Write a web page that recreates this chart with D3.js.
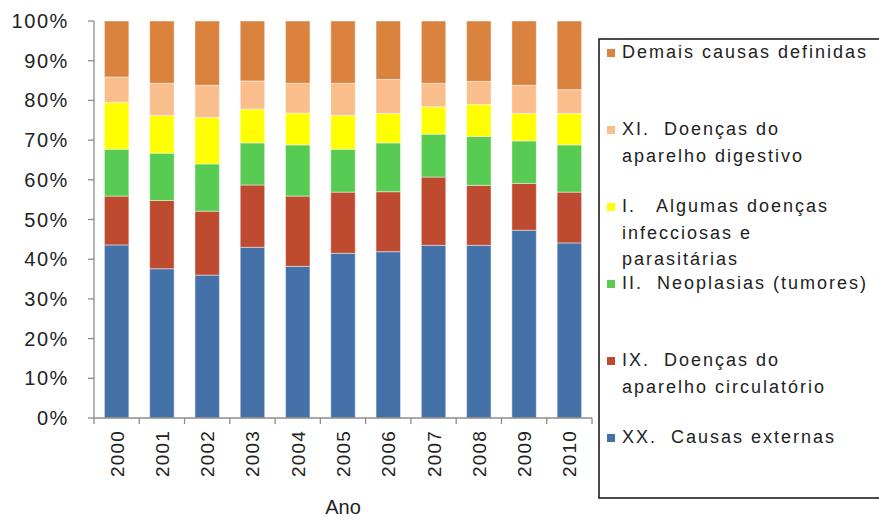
<!DOCTYPE html>
<html>
<head>
<meta charset="utf-8">
<script src="https://cdn.jsdelivr.net/npm/d3@7"></script>
<style>
  body { margin: 0; background: #fff; }
  text { font-family: "Liberation Sans", Arial, sans-serif; fill: #222; }
</style>
</head>
<body>
<div id="chart"></div>
<script>
const years = ["2000", "2001", "2002", "2003", "2004", "2005", "2006", "2007", "2008", "2009", "2010"];
// stack order bottom -> top
const seriesKeys = ["XX", "IX", "II", "I", "XI", "Demais"];
const externas   = [43.6, 37.6, 36.0, 43.0, 38.2, 41.5, 41.9, 43.5, 43.5, 47.3, 44.1];
const circulat   = [12.3, 17.2, 16.1, 15.7, 17.7, 15.4, 15.1, 17.2, 15.1, 11.8, 12.8];
const neoplasias = [11.8, 11.9, 11.9, 10.6, 12.9, 10.8, 12.3, 10.8, 12.3, 10.7, 11.9];
const infeccios  = [11.8, 9.5, 11.7, 8.5, 8.0, 8.5, 7.4, 6.9, 8.1, 6.9, 7.9];
const digestivo  = [6.4, 8.1, 8.1, 7.1, 7.5, 8.1, 8.6, 5.9, 5.8, 7.1, 6.0];
const demais     = [14.1, 15.7, 16.2, 15.1, 15.7, 15.7, 14.7, 15.7, 15.2, 16.2, 17.3];
const seriesLabels = {
  XX: ["XX.  Causas externas"],
  IX: ["IX.  Doenças do", "aparelho circulatório"],
  II: ["II.  Neoplasias (tumores)"],
  I: ["I.   Algumas doenças", "infecciosas e", "parasitárias"],
  XI: ["XI.  Doenças do", "aparelho digestivo"],
  Demais: ["Demais causas definidas"]
};
const colors = {
  XX: "#4472a8", IX: "#be4a30", II: "#58cb53",
  I: "#ffff00", XI: "#f9be8c", Demais: "#da833f"
};
const yTicks = [0, 10, 20, 30, 40, 50, 60, 70, 80, 90, 100];

const W = 879, H = 520;
const M = { LEFT: 94, TOP: 21 };
const PW = 498, PH = 397;

const table = years.map((y, i) => ({
  year: y, XX: externas[i], IX: circulat[i], II: neoplasias[i],
  I: infeccios[i], XI: digestivo[i], Demais: demais[i]
}));

const svg = d3.select("#chart").append("svg")
  .attr("width", W).attr("height", H);

const g = svg.append("g").attr("transform", `translate(${M.LEFT},${M.TOP})`);

const x = d3.scaleBand().domain(years).range([0, PW])
  .paddingInner(0.46).paddingOuter(0.23);
const y = d3.scaleLinear().domain([0, 100]).range([PH, 0]);

const stacked = d3.stack().keys(seriesKeys)(table);

g.selectAll("g.series")
  .data(stacked)
  .enter().append("g")
  .attr("class", "series")
  .attr("fill", d => colors[d.key])
  .selectAll("rect")
  .data(d => d)
  .enter().append("rect")
  .attr("x", d => x(d.data.year))
  .attr("width", x.bandwidth())
  .attr("y", d => y(d[1]))
  .attr("height", d => y(d[0]) - y(d[1]))
  .attr("stroke", "rgba(255,255,255,0.45)")
  .attr("stroke-width", 1);

// y axis
const axisColor = "#8c8c8c";
g.append("line").attr("x1", 0).attr("x2", 0).attr("y1", 0).attr("y2", PH)
  .attr("stroke", axisColor).attr("stroke-width", 1.3);
g.selectAll("line.ytick").data(yTicks).enter().append("line")
  .attr("x1", -6).attr("x2", 0)
  .attr("y1", d => y(d)).attr("y2", d => y(d))
  .attr("stroke", axisColor).attr("stroke-width", 1.3);
g.selectAll("text.ylab").data(yTicks).enter().append("text")
  .attr("x", -25).attr("y", d => y(d) + 7)
  .attr("text-anchor", "end")
  .style("font-size", "20px").style("letter-spacing", "1.6px")
  .text(d => d + "%");

// x axis
g.append("line").attr("x1", 0).attr("x2", PW).attr("y1", PH).attr("y2", PH)
  .attr("stroke", axisColor).attr("stroke-width", 1.3);
const bounds = d3.range(years.length + 1).map(i => i * x.step());
g.selectAll("line.xtick").data(bounds).enter().append("line")
  .attr("x1", d => d).attr("x2", d => d)
  .attr("y1", PH).attr("y2", PH + 6)
  .attr("stroke", axisColor).attr("stroke-width", 1.3);
g.selectAll("text.xlab").data(years).enter().append("text")
  .attr("transform", d => `translate(${x(d) + x.bandwidth() / 2 + 7},${PH + 12}) rotate(-90)`)
  .attr("text-anchor", "end")
  .style("font-size", "19px").style("letter-spacing", "1.2px")
  .text(d => d);

g.append("text")
  .attr("x", PW / 2).attr("y", H - M.TOP - 6)
  .attr("text-anchor", "middle")
  .style("font-size", "20px")
  .text("Ano");

// legend
const legend = svg.append("g").attr("transform", "translate(599,39)");
legend.append("rect")
  .attr("x", 0).attr("y", 0).attr("width", 300).attr("height", 459)
  .attr("fill", "none").attr("stroke", "#111").attr("stroke-width", 1.5);

const legendKeys = seriesKeys.slice().reverse();
const items = legend.selectAll("g.item").data(legendKeys).enter().append("g")
  .attr("class", "item")
  .attr("transform", (d, i) => `translate(0,${19 + i * 77})`);
items.append("rect")
  .attr("x", 8).attr("y", -9).attr("width", 8).attr("height", 8)
  .attr("fill", d => colors[d]);
items.append("text")
  .style("font-size", "18px").style("letter-spacing", "2px")
  .style("white-space", "pre")
  .selectAll("tspan")
  .data(d => seriesLabels[d])
  .enter().append("tspan")
  .attr("x", 23)
  .attr("dy", (d, i) => i === 0 ? 0 : 26.5)
  .text(d => d);
</script>
</body>
</html>
